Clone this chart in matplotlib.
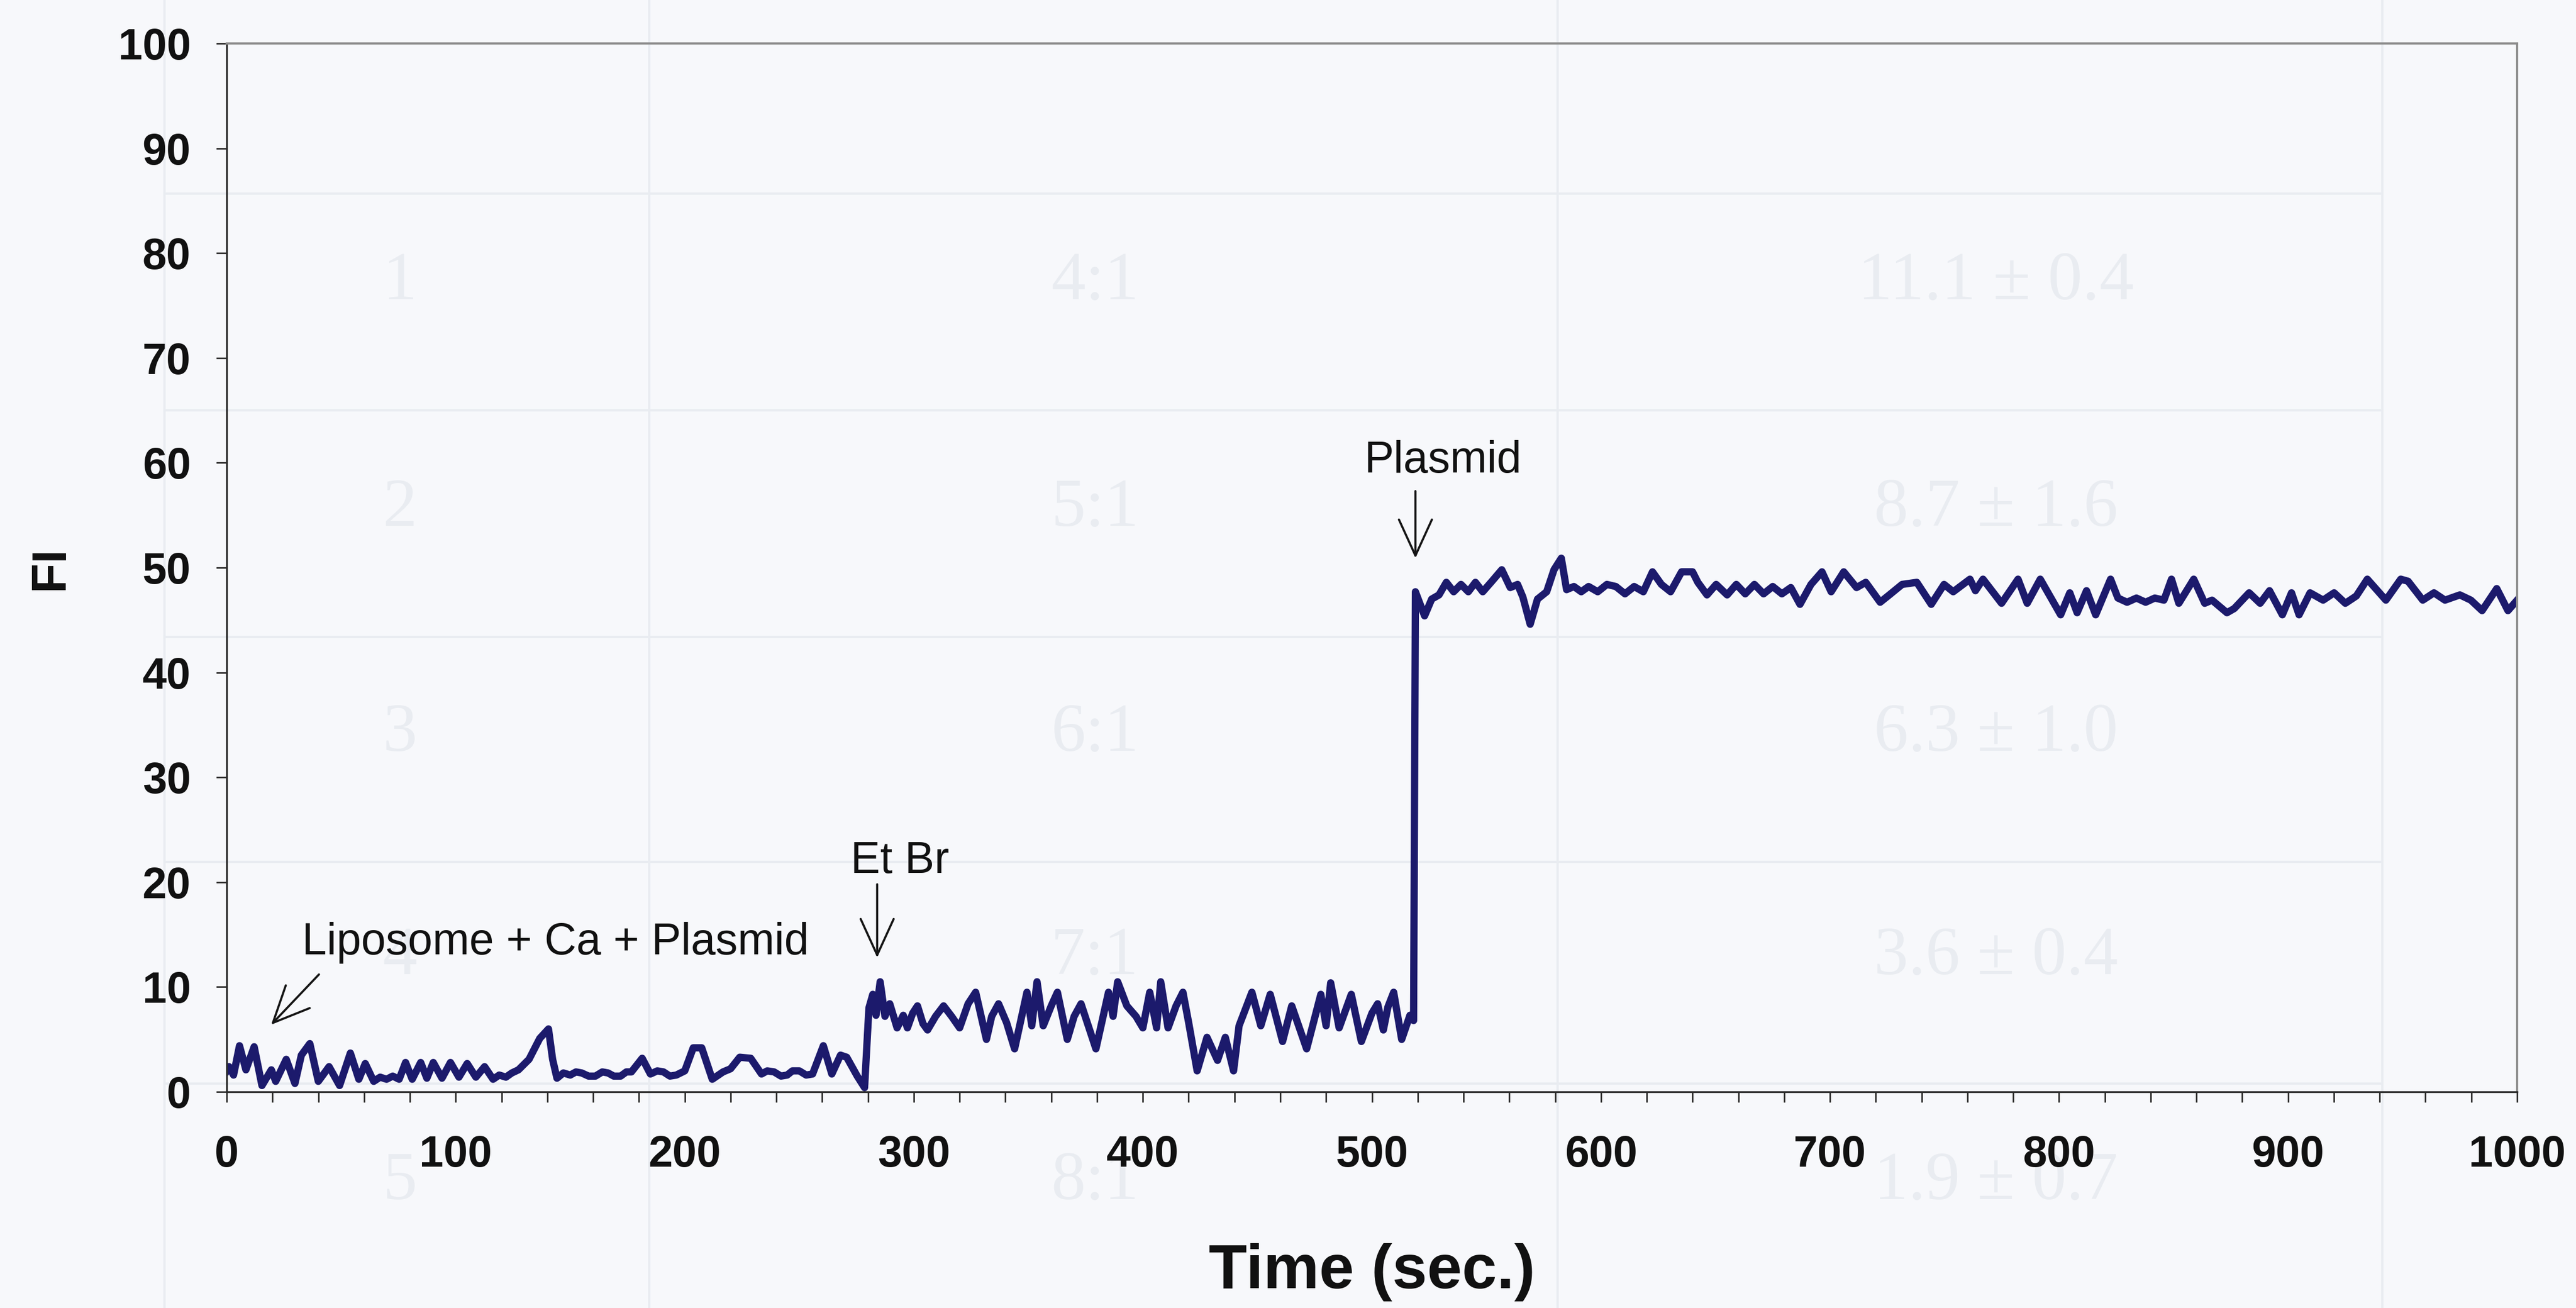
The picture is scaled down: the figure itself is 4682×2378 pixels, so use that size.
import matplotlib
matplotlib.use("Agg")
import matplotlib.pyplot as plt
from matplotlib.lines import Line2D
from matplotlib.ticker import MultipleLocator

# Fluorescence trace: baseline after liposome + Ca + plasmid
t_base = [0, 1, 3, 5.6, 8.4, 12, 15.4, 19.5, 21.4, 26, 29.8, 32.6, 36.3, 40, 44.7,
          49.3, 54, 57.7, 60.5, 64.2, 67, 69.8, 72.5, 75.3, 78.1, 81, 84.7, 87.4,
          90.2, 94, 97.7, 101.4, 105, 108.8, 112.6, 116.3, 119, 121.9, 124.5, 127.4,
          132, 136.7, 140.5, 142.3, 144.2, 147, 150, 152.5, 155, 158, 161, 164,
          166.5, 169, 172, 174.5, 176.7, 181.4, 185, 188, 190.7, 193.5, 196.3, 200,
          203.7, 207.4, 212, 216.7, 220, 224, 228.8, 233.5, 236, 239, 242, 244.7,
          247, 250, 253, 255.8, 260.5, 264.2, 268, 270.7, 275.3, 278.5]
fi_base = [2.0, 2.4, 1.6, 4.4, 2.1, 4.3, 0.6, 2.1, 1.0, 3.1,
           0.8, 3.5, 4.6, 1.0, 2.4, 0.6, 3.7, 1.2, 2.7, 1.0,
           1.4, 1.2, 1.5, 1.2, 2.8, 1.2, 2.8, 1.3, 2.8, 1.3,
           2.8, 1.4, 2.7, 1.4, 2.4, 1.2, 1.6, 1.4, 1.8, 2.1,
           3.1, 5.1, 6.0, 3.1, 1.3, 1.8, 1.6, 1.9, 1.8, 1.5,
           1.5, 1.9, 1.8, 1.5, 1.5, 1.9, 1.9, 3.2, 1.7, 2.0,
           1.9, 1.5, 1.6, 2.0, 4.2, 4.2, 1.2, 1.9, 2.2, 3.3,
           3.2, 1.7, 2.0, 1.9, 1.5, 1.6, 2.0, 2.0, 1.6, 1.7,
           4.4, 1.7, 3.5, 3.3, 1.5, 0.4]

# After ethidium bromide addition
t_etbr = [280.4, 282.1, 283.5, 285.3, 287.4, 289.5, 292.7, 295.4, 297.2, 299.5,
          301.6, 304, 306, 309.5, 313, 316.5, 320, 323.7, 327, 331.7,
          334, 337, 340.5, 344, 349.4, 351.5, 353.8, 356.5, 360, 362.7,
          367, 370, 373, 379.5, 385, 387, 389, 393, 397, 400,
          403, 406, 407.8, 411, 414.5, 417.5, 420, 423.7, 428, 432.6,
          436, 439.6, 442, 447.6, 451.5, 455.6, 461, 465, 471.5, 477.7,
          480, 482, 485.7, 491, 495.4, 500, 502.5, 505, 507, 509.5,
          513, 516.6, 518.2]
fi_etbr = [8.0, 9.3, 7.3, 10.5, 7.2, 8.4, 6.1, 7.3, 6.1, 7.5,
           8.2, 6.5, 5.9, 7.2, 8.2, 7.2, 6.1, 8.4, 9.5, 5.0,
           7.2, 8.4, 6.6, 4.1, 9.5, 6.3, 10.5, 6.3, 8.2, 9.5,
           5.0, 7.2, 8.4, 4.1, 9.5, 7.2, 10.5, 8.2, 7.2, 6.1,
           9.5, 6.1, 10.5, 6.1, 8.2, 9.5, 6.6, 2.0, 5.2, 3.0,
           5.2, 2.0, 6.3, 9.5, 6.3, 9.3, 4.8, 8.2, 4.1, 9.3,
           6.3, 10.4, 6.1, 9.3, 4.8, 7.5, 8.4, 5.9, 8.1, 9.5,
           5.0, 7.3, 6.8]

# After free plasmid addition
t_plasmid = [519.0, 523.0, 526.1, 529.3, 532.5, 535.7, 538.9, 542.1, 545.2, 548.4,
             552.4, 556.7, 560.4, 563.6, 565.9, 569.1, 572.3, 576.3, 579.5, 582.7,
             585.0, 588.2, 591.4, 594.6, 598.6, 602.6, 606.5, 610.5, 614.5, 618.5,
             622.5, 626.4, 630.4, 635.2, 640.0, 642.3, 646.3, 650.3, 655.1, 659.1,
             663.0, 667.0, 671.0, 675.0, 679.0, 682.9, 686.9, 691.7, 696.5, 700.5,
             706.0, 711.6, 715.6, 721.9, 725.9, 731.5, 737.9, 744.2, 749.8, 753.8,
             761.1, 763.5, 766.8, 774.9, 782.1, 786.1, 791.8, 800.7, 804.7, 807.9,
             812.0, 816.0, 822.5, 825.7, 829.7, 833.8, 837.8, 841.8, 845.8, 849.1,
             852.3, 858.8, 863.6, 866.8, 873.3, 876.5, 883.0, 887.8, 891.9, 897.5,
             901.5, 904.8, 909.6, 915.3, 920.1, 925.0, 929.8, 934.6, 942.7, 949.2,
             952.4, 958.8, 963.7, 968.5, 975.0, 979.8, 984.7, 991.1, 996.0, 1000.0]
fi_plasmid = [47.7, 45.4, 47.0, 47.4, 48.6, 47.7, 48.4, 47.7, 48.6, 47.7,
              48.7, 49.8, 48.1, 48.4, 47.2, 44.6, 47.0, 47.7, 49.8, 50.9,
              47.9, 48.2, 47.7, 48.2, 47.7, 48.4, 48.2, 47.5, 48.2, 47.7,
              49.6, 48.4, 47.7, 49.6, 49.6, 48.6, 47.4, 48.4, 47.4, 48.4,
              47.5, 48.4, 47.5, 48.2, 47.5, 48.1, 46.5, 48.4, 49.6, 47.7,
              49.6, 48.1, 48.6, 46.7, 47.4, 48.4, 48.6, 46.5, 48.4, 47.7,
              48.9, 47.8, 48.9, 46.6, 48.9, 46.6, 48.9, 45.5, 47.6, 45.7,
              47.8, 45.5, 48.9, 47.1, 46.7, 47.1, 46.7, 47.1, 46.9, 48.9,
              46.6, 48.9, 46.6, 46.9, 45.7, 46.1, 47.6, 46.6, 47.8, 45.5,
              47.6, 45.5, 47.6, 46.9, 47.6, 46.6, 47.3, 48.9, 46.9, 48.9,
              48.7, 46.9, 47.6, 46.9, 47.4, 46.9, 45.9, 48.0, 45.9, 46.9]

x_ticks = [0, 100, 200, 300, 400, 500, 600, 700, 800, 900, 1000]
y_ticks = [0, 10, 20, 30, 40, 50, 60, 70, 80, 90, 100]

# Faint table printed on the reverse side of the page
table_rows = [("1", "4:1", "11.1 \u00b1 0.4"),
              ("2", "5:1", "8.7 \u00b1 1.6"),
              ("3", "6:1", "6.3 \u00b1 1.0"),
              ("4", "7:1", "3.6 \u00b1 0.4"),
              ("5", "8:1", "1.9 \u00b1 0.7")]

assert len(t_base) == len(fi_base)
assert len(t_etbr) == len(fi_etbr)
assert len(t_plasmid) == len(fi_plasmid)

W, H = 4682, 2378
BG = "#f7f8fb"
GHOST = "#e9ecf1"
plt.rcParams["font.family"] = ["Liberation Sans", "DejaVu Sans"]

fig = plt.figure(figsize=(W / 100, H / 100), dpi=100, facecolor=BG)


def fx(px):
    return px / W


def fy(py):
    return 1 - py / H


# show-through table, drawn behind the chart
for xv in (299, 1180, 2831, 4330):
    fig.add_artist(Line2D([fx(xv), fx(xv)], [fy(0), fy(H)], transform=fig.transFigure,
                          color=GHOST, lw=3, zorder=0))
for yv in (352, 746, 1158, 1567, 1970):
    fig.add_artist(Line2D([fx(299), fx(4330)], [fy(yv), fy(yv)], transform=fig.transFigure,
                          color=GHOST, lw=3, zorder=0))
row_y = [514, 926, 1335, 1741, 2150]
col_x = [727, 1990, 3628]
for ry, row in zip(row_y, table_rows):
    for cx, txt in zip(col_x, row):
        fig.text(fx(cx), fy(ry), txt, ha="center", va="center", fontsize=90,
                 family="Liberation Serif", color=GHOST, zorder=0)

ax = fig.add_axes([412 / W, 1 - 1985 / H, (4575 - 412) / W, (1985 - 79) / H])
ax.set_facecolor("none")
ax.set_zorder(2)

t_all = t_base + t_etbr + t_plasmid
fi_all = fi_base + fi_etbr + fi_plasmid
ax.plot(t_all, fi_all, color="#1c1a6c", lw=9.5, solid_joinstyle="round")

ax.set_xlim(0, 1000)
ax.set_ylim(0, 100)
ax.set_xticks(x_ticks)
ax.set_yticks(y_ticks)
ax.xaxis.set_minor_locator(MultipleLocator(20))

for side in ("left", "bottom"):
    ax.spines[side].set_color("#2a2a2a")
    ax.spines[side].set_linewidth(2.4)
for side in ("top", "right"):
    ax.spines[side].set_color("#8d8d8d")
    ax.spines[side].set_linewidth(2.8)

ax.tick_params(axis="both", which="both", direction="out", length=14, width=2,
               color="#2a2a2a", top=False, right=False)
ax.tick_params(axis="y", pad=33)
ax.tick_params(axis="x", pad=42)
for lab in ax.get_xticklabels() + ax.get_yticklabels():
    lab.set_fontsize(57)
    lab.set_fontweight("bold")
    lab.set_color("#111111")

ax.set_xlabel("Time (sec.)", fontsize=82, fontweight="bold", labelpad=88, color="#111111")
ax.set_ylabel("FI", fontsize=64, fontweight="bold", labelpad=58, color="#111111")

arrow_kw = dict(arrowstyle="->,head_length=1.05,head_width=0.48", color="#151515",
                lw=2.8, shrinkA=0, shrinkB=0, mutation_scale=45)

# event markers
ax.annotate("", xy=(19.4, 6.4), xytext=(40.3, 11.2), arrowprops=arrow_kw)
ax.text(33, 13.1, "Liposome + Ca + Plasmid", fontsize=58, ha="left", va="baseline",
        color="#111111")

ax.annotate("", xy=(284, 12.8), xytext=(284, 19.8), arrowprops=arrow_kw)
ax.text(294, 20.9, "Et Br", fontsize=58, ha="center", va="baseline", color="#111111")

ax.annotate("", xy=(519, 50.9), xytext=(519, 57.3), arrowprops=arrow_kw)
ax.text(531, 59.1, "Plasmid", fontsize=58, ha="center", va="baseline", color="#111111")

fig.savefig("out.png", dpi=100, facecolor=BG)
